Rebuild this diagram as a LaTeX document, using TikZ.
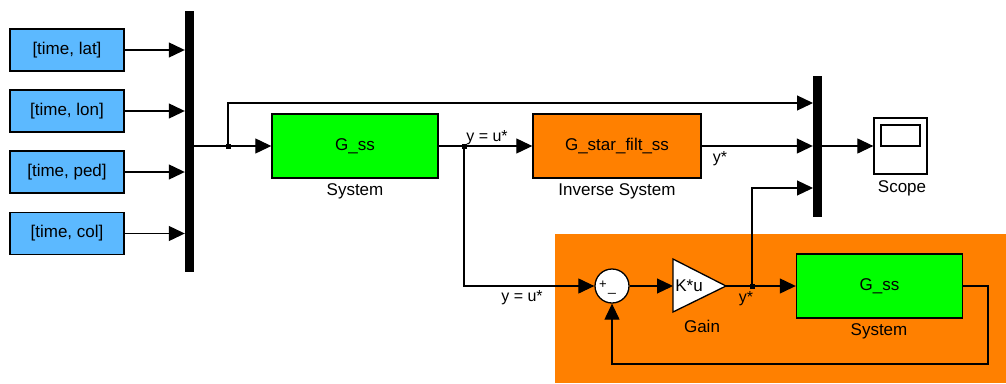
\documentclass[tikz,border=0pt]{standalone}
\usepackage{fontspec}
\setmainfont{Liberation Sans}
\usetikzlibrary{arrows.meta}
\definecolor{skyblk}{RGB}{92,185,255}
\definecolor{grnblk}{RGB}{0,255,0}
\definecolor{orgblk}{RGB}{255,128,0}
\begin{document}
\begin{tikzpicture}[x=1pt,y=-1pt,
  lbl/.style={font=\fontsize{17}{19}\selectfont, inner sep=0pt},
  sig/.style={font=\fontsize{16}{18}\selectfont, inner sep=0pt},
  blk/.style={draw, line width=1.4pt, inner sep=0pt, font=\fontsize{17}{19}\selectfont},
  srcblk/.style={blk, fill=skyblk, minimum width=114pt, minimum height=42pt},
  sysblk/.style={blk, fill=grnblk, minimum width=166pt, minimum height=64pt},
  invblk/.style={blk, fill=orgblk, minimum width=168pt, minimum height=64pt},
  muxbar/.style={fill=black, draw=none, inner sep=0pt},
  jn/.style={fill=black, draw=none, minimum size=5pt, inner sep=0pt},
  wire/.style={line width=1.2pt},
  arr/.style={wire, -{Triangle[length=16pt,width=15pt]}}
]
\useasboundingbox (0,0) rectangle (1006,383);
% orange subsystem background
\fill[orgblk] (555,234) rectangle (1006,383);

% source blocks
\node[srcblk] (b1) at (67,50) {[time, lat]};
\node[srcblk] (b2) at (67,111) {[time, lon]};
\node[srcblk] (b3) at (67,172) {[time, ped]};
\node[srcblk] (b4) at (67,233.5) {[time, col]};

% mux 1
\node[muxbar, minimum width=9pt, minimum height=261pt] (mux1) at (189.5,141.5) {};

% system
\node[sysblk] (g1) at (355,146) {G\_ss};
\node[lbl] (g1l) at (355,191) {System};

% inverse system
\node[invblk] (inv) at (617,146) {G\_star\_filt\_ss};
\node[lbl] (invl) at (617,191) {Inverse System};

% mux 2
\node[muxbar, minimum width=9pt, minimum height=141pt] (mux2) at (817.5,146.5) {};

% scope
\node[draw, line width=1.3pt, fill=white, minimum width=53pt, minimum height=56pt, inner sep=0pt] (scope) at (900.5,146) {};
\draw[line width=1.3pt] (881,125) rectangle (920,146);
\node[lbl] (scopel) at (902,188) {Scope};

% junctions
\node[jn] (j1) at (228,146) {};
\node[jn] (j2) at (464,146) {};
\node[jn] (j3) at (752,286) {};

% sum, gain, inner system
\node[draw, line width=1.3pt, fill=white, circle, minimum size=34pt, inner sep=0pt] (sum) at (612,286) {};
\node[font=\fontsize{13}{14}\selectfont, inner sep=0pt] (plus) at (603,285) {+};
\node[font=\fontsize{14}{15}\selectfont, inner sep=0pt] (minus) at (612,293) {\_};
\coordinate (gin) at (673,286);
\coordinate (gout) at (726,286);
\draw[line width=1.3pt, fill=white] (673,259) -- (726,286) -- (673,312) -- cycle;
\node[lbl] (gaintxt) at (689,286) {K*u};
\node[lbl] (gainl) at (702,326) {Gain};
\node[sysblk] (g2) at (879.5,286) {G\_ss};
\node[lbl] (g2l) at (879,331) {System};

% connectors from sources
\foreach \b in {b1,b2,b3,b4}
  \draw[arr] (\b.east) -- (\b.east -| mux1.west);

% mux1 -> system
\draw[arr] (mux1.east |- j1) -- (g1.west);
% branch to mux2 top
\coordinate (m2a) at (813,103);
\draw[arr] (j1.center) -- (j1.center |- m2a) -- (m2a);
% system -> inverse system
\draw[arr] (g1.east) -- (inv.west);
\node[sig] (ylab1) at (487,138) {y = u*};
% inverse -> mux2
\draw[arr] (inv.east) -- (inv.east -| mux2.west);
\node[sig] (ys1) at (720,159) {y*};
% mux2 -> scope
\draw[arr] (mux2.east |- scope.west) -- (scope.west);
% branch down to sum
\draw[arr] (j2.center) -- (j2.center |- sum.west) -- (sum.west);
\node[sig] (ylab2) at (522,298) {y = u*};
% sum -> gain
\draw[arr] (sum.east) -- (gin);
% gain -> system
\draw[arr] (gout) -- (g2.west);
\node[sig] (ys2) at (746,299) {y*};
% branch up to mux2 bottom
\coordinate (m2c) at (813,188);
\draw[arr] (j3.center) -- (j3.center |- m2c) -- (m2c);
% feedback
\coordinate (fb1) at (988,286);
\coordinate (fb2) at (988,364);
\coordinate (fb3) at (612,364);
\draw[arr] (g2.east) -- (fb1) -- (fb2) -- (fb3) -- (sum.south);
\end{tikzpicture}
\end{document}
